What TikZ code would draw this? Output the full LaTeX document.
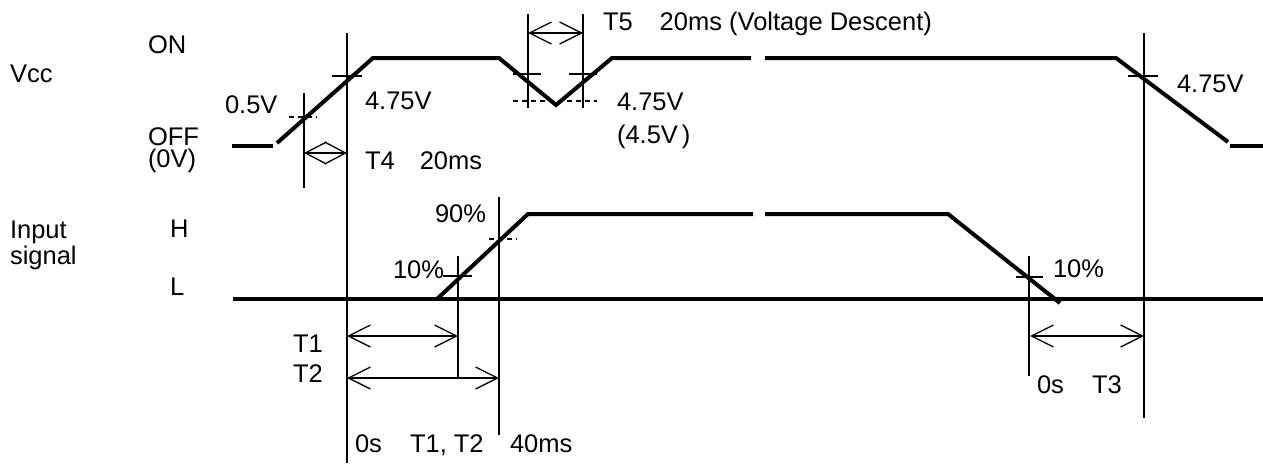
\documentclass[tikz,border=0pt]{standalone}
\usepackage{fontspec}
\setmainfont{Liberation Sans}
\usetikzlibrary{arrows.meta}
\tikzset{
  lbl/.style={anchor=base west, inner sep=0pt, outer sep=0pt, font=\fontsize{25.5}{30}\selectfont},
  sig/.style={line width=4pt, line join=miter},
  thin/.style={line width=1.3pt},
  dsh/.style={line width=1.3pt, dash pattern=on 5pt off 4pt},
  dimarrow/.style={line width=1.3pt, {Straight Barb[length=22pt,width=22pt]}-{Straight Barb[length=22pt,width=22pt]}},
  diamarrow/.style={line width=1.3pt, {Straight Barb[length=21pt,width=22pt]}-{Straight Barb[length=21pt,width=22pt]}}
}
\begin{document}
\begin{tikzpicture}[x=1pt,y=-1pt]
\useasboundingbox (0,0) rectangle (1263,463);
\fill[white] (0,0) rectangle (1263,463);

% ---------- Vcc signal ----------
\draw[sig] (232,146) -- (273,146);
\draw[sig] (277,143) -- (373,58) -- (499,58) -- (556,105) -- (612,58) -- (751,58);
\draw[sig] (765,58) -- (1116,58) -- (1228,142);
\draw[sig] (1230,146) -- (1263,146);

% ---------- Input signal ----------
\draw[sig] (233,299) -- (1263,299);
\draw[sig] (437,299) -- (528,214) -- (753,214);
\draw[sig] (765,214) -- (948,214) -- (1060,303);

% ---------- vertical reference lines ----------
\coordinate (v05t) at (304,93);   \coordinate (v05b) at (304,188);
\coordinate (v0t) at (347,33);    \coordinate (v0b) at (347,463);
\coordinate (v5at) at (528,14);   \coordinate (v5ab) at (528,108);
\coordinate (v5bt) at (583,14);   \coordinate (v5bb) at (583,108);
\coordinate (vRt) at (1144,33);   \coordinate (vRb) at (1144,418);
\coordinate (v10t) at (458,256);  \coordinate (v10b) at (458,378);
\coordinate (v90t) at (499,197);  \coordinate (v90b) at (499,435);
\coordinate (vR10t) at (1029,256);\coordinate (vR10b) at (1029,376);
\draw[thin] (v05t) -- (v05b);
\draw[thin] (v0t) -- (v0b);
\draw[thin] (v5at) -- (v5ab);
\draw[thin] (v5bt) -- (v5bb);
\draw[thin] (vRt) -- (vRb);
\draw[thin] (v10t) -- (v10b);
\draw[thin] (v90t) -- (v90b);
\draw[thin] (vR10t) -- (vR10b);

% ---------- level ticks ----------
\draw[thin] (332,76) -- (362,76);
\draw[dsh] (289,117) -- (317,117);
\draw[thin] (513,74) -- (541,74);
\draw[thin] (569,74) -- (597,74);
\draw[dsh] (513,101) -- (597,101);
\draw[thin] (1128,76) -- (1158,76);
\draw[thin] (443,276) -- (472,276);
\draw[dsh] (489,239) -- (517,239);
\draw[thin] (1016,277) -- (1043,277);

% ---------- dimension arrows ----------
\coordinate (t4a) at (304,153); \coordinate (t4b) at (347,153);
\coordinate (t5a) at (528,33);  \coordinate (t5b) at (583,33);
\coordinate (t1a) at (347,336); \coordinate (t1b) at (458,336);
\coordinate (t2a) at (347,378); \coordinate (t2b) at (499,378);
\coordinate (t3a) at (1030,336);\coordinate (t3b) at (1144,336);
\draw[diamarrow] (t4a) -- (t4b);
\draw[dimarrow] (t5a) -- (t5b);
\draw[dimarrow] (t1a) -- (t1b);
\draw[dimarrow] (t2a) -- (t2b);
\draw[dimarrow] (t3a) -- (t3b);

% ---------- labels ----------
\node[lbl] (vcc) at (10,82) {Vcc};
\node[lbl] (on) at (148,53) {ON};
\node[lbl] (off) at (148,145) {OFF};
\node[lbl] (zv) at (148,167) {(0V)};
\node[lbl] (inp) at (10,238) {Input};
\node[lbl] (sgn) at (10,264) {signal};
\node[lbl] (hh) at (170,237) {H};
\node[lbl] (ll) at (170,295) {L};

\node[lbl] (l05) at (225,113) {0.5V};
\node[lbl] (l475a) at (365,109) {4.75V};
\node[lbl] (lt4) at (365,169) {T4\hspace{25pt}20ms};
\node[lbl] (lt5) at (603,30) {T5\hspace{27pt}20ms (Voltage Descent)};
\node[lbl] (l475b) at (617,110) {4.75V};
\node[lbl] (l45) at (617,143) {(4.5V\kern4pt)};
\node[lbl] (l475c) at (1177,92) {4.75V};

\node[lbl] (l90) at (435,222) {90\%};
\node[lbl] (l10) at (393,278) {10\%};
\node[lbl] (lR10) at (1053,277) {10\%};
\node[lbl] (lT1) at (293,352) {T1};
\node[lbl] (lT2) at (293,382) {T2};
\node[lbl] (l0s) at (355,452) {0s};
\node[lbl] (lT12) at (410,452) {T1, T2};
\node[lbl] (l40) at (510,452) {40ms};
\node[lbl] (lR0s) at (1037,393) {0s};
\node[lbl] (lT3) at (1092,393) {T3};
\end{tikzpicture}
\end{document}
